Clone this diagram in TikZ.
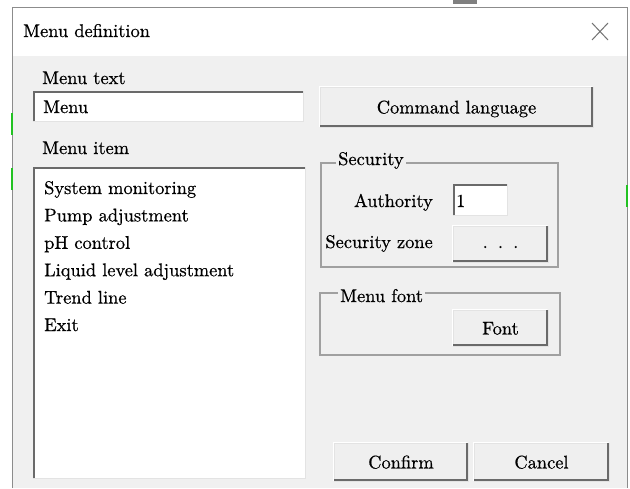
\documentclass[tikz,border=0pt]{standalone}
\usepackage{fontspec}
\newfontfamily\lmten{lmroman10-regular.otf}[FakeBold=0.6]
\definecolor{bg}{HTML}{F0F0F0}
\definecolor{winline}{HTML}{8C8C8C}
\definecolor{dk}{HTML}{6A6A6A}
\definecolor{lt}{HTML}{E3E3E3}
\definecolor{grpline}{HTML}{A0A0A0}
\definecolor{btnfill}{HTML}{EFEFEF}
\definecolor{grn}{HTML}{22C222}
\newcommand\btnedge[1]{%
  \draw[white,line width=1.2pt] (#1.south west) -- (#1.north west) -- (#1.north east);
  \draw[dk,line width=2.6pt] ([xshift=-1.3pt]#1.north east) -- ([xshift=-1.3pt,yshift=1.3pt]#1.south east) -- ([yshift=1.3pt]#1.south west);}
\newcommand\sunkedge[1]{%
  \draw[lt,line width=1.2pt] (#1.south west) -- (#1.south east) -- (#1.north east);
  \draw[dk,line width=2.6pt] ([xshift=1.3pt]#1.south west) -- ([xshift=1.3pt,yshift=-1.3pt]#1.north west) -- ([yshift=-1.3pt]#1.north east);}
\begin{document}
\begin{tikzpicture}[x=1pt,y=-1pt,
  txt/.style={font=\lmten\fontsize{18.4}{22}\selectfont, inner sep=0pt, text=black},
  btn/.style={txt, fill=btnfill, draw=lt, line width=0.8pt, text height=13pt, text depth=0pt},
  sunk/.style={fill=white, inner sep=0pt},
  grp/.style={draw=grpline, line width=1.2pt},
  grplbl/.style={txt, fill=bg, inner xsep=2pt, inner ysep=1pt, anchor=base west}]
\useasboundingbox (0,0) rectangle (630,488);
\fill[white] (0,0) rectangle (630,488);
% window
\fill[bg] (12,56) rectangle (627,488);
\draw[winline, line width=1pt] (12,488) -- (12,7) -- (627,7) -- (627,488);
\fill[black!50] (453,0) rectangle (477,4);
\draw[grn, line width=1.5pt] (12,113) -- (12,135);
\draw[grn, line width=1.5pt] (12,168) -- (12,190);
\draw[grn, line width=1.5pt] (627,185) -- (627,207);
% title bar
\node[txt, anchor=base west] (title) at (23,37) {Menu definition};
\coordinate (x1) at (592,23); \coordinate (x2) at (608,40);
\coordinate (x3) at (592,40); \coordinate (x4) at (608,23);
\draw[black!55, line width=1pt] (x1) -- (x2) (x3) -- (x4);
% menu text
\node[txt, anchor=base west] (lmenutext) at (42,84) {Menu text};
\node[sunk, minimum width=270pt, minimum height=30pt] (menutext) at (168,106) {};
\sunkedge{menutext}
\node[txt, anchor=base west] (menuval) at (43,113) {Menu};
% command language
\node[btn, minimum width=273pt, minimum height=40pt] (cmd) at (456.5,107) {Command language};
\btnedge{cmd}
% menu item list
\node[txt, anchor=base west] (lmenuitem) at (42,154) {Menu item};
\node[sunk, minimum width=272pt, minimum height=311pt] (list) at (169,322.5) {};
\sunkedge{list}
\node[txt, anchor=base west] (i1) at (44,194) {System monitoring};
\node[txt, anchor=base west] (i2) at (44,221.4) {Pump adjustment};
\node[txt, anchor=base west] (i3) at (44,248.8) {pH control};
\node[txt, anchor=base west] (i4) at (44,276.2) {Liquid level adjustment};
\node[txt, anchor=base west] (i5) at (44,303.6) {Trend line};
\node[txt, anchor=base west] (i6) at (44,331) {Exit};
% security group
\draw[grp] (321,163) rectangle (558,267);
\node[grplbl] (lsec) at (336,165) {Security};
\node[txt, anchor=base east] (lauth) at (433,207) {Authority};
\node[sunk, minimum width=54pt, minimum height=31pt] (auth) at (480,199.5) {};
\sunkedge{auth}
\node[txt, anchor=base west] (authval) at (456,207) {1};
\node[txt, anchor=base east] (lzone) at (433,248) {Security zone};
\node[btn, minimum width=95pt, minimum height=36pt, text height=8pt] (zone) at (500.5,244) {.\hspace{0.55em}.\hspace{0.55em}.};
\btnedge{zone}
% menu font group
\draw[grp] (320,293) rectangle (560,355);
\node[grplbl] (lfont) at (338,302) {Menu font};
\node[btn, minimum width=95pt, minimum height=36pt] (font) at (500.5,328) {Font};
\btnedge{font}
% bottom buttons
\node[btn, minimum width=134pt, minimum height=38pt] (confirm) at (401,462) {Confirm};
\btnedge{confirm}
\node[btn, minimum width=135pt, minimum height=38pt] (cancel) at (541.5,462) {Cancel};
\btnedge{cancel}
\end{tikzpicture}
\end{document}
